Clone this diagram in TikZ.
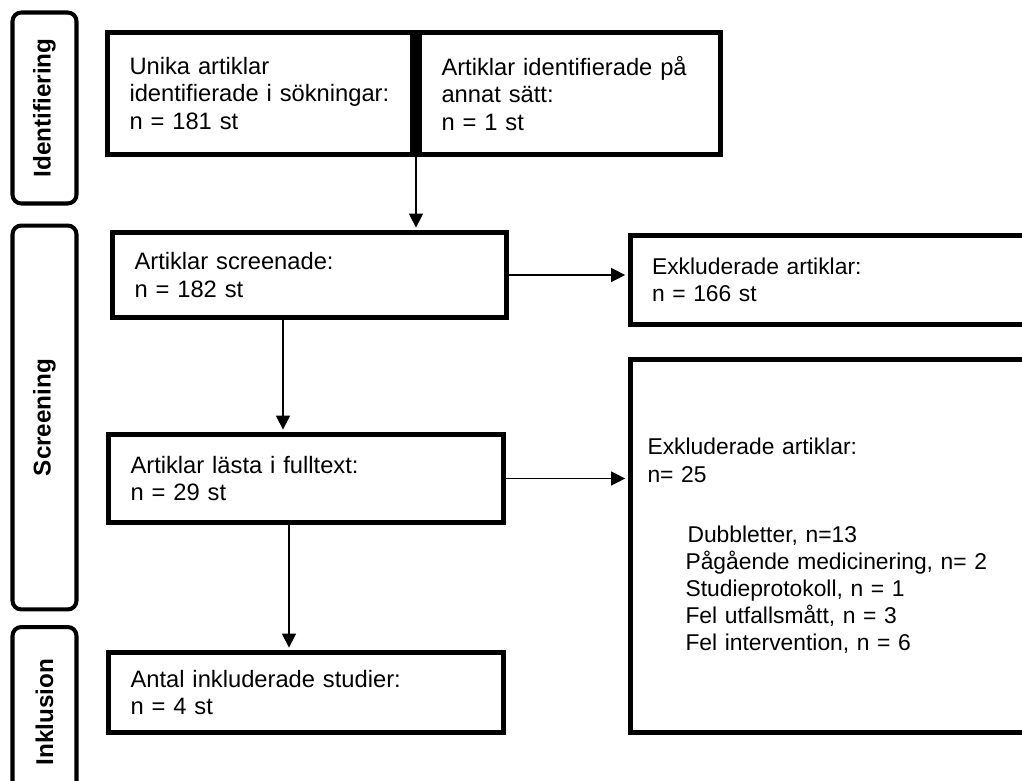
\documentclass[tikz,border=0pt]{standalone}
\usepackage{fontspec}
\setmainfont{Liberation Sans}
\usepackage{tikz}
\usetikzlibrary{calc,arrows.meta}

\tikzset{
  phase/.style={draw,line width=2.3pt,rounded corners=5pt,rotate=90,
    minimum height=1.28cm,font=\bfseries\fontsize{13.8}{16}\selectfont},
  box/.style={draw,line width=2.8pt,align=left,inner xsep=0.44cm,
    font=\fontsize{13.5}{15.4}\selectfont},
  exclbox/.style={box,font=\fontsize{13}{15.4}\selectfont},
  arr/.style={-{Triangle[length=8pt,width=8pt]},line width=0.85pt,shorten >=1.4pt}
}

\begin{document}
\begin{tikzpicture}[x=0.02cm,y=-0.02cm]
\useasboundingbox (0,0) rectangle (1022,781);
\clip (0,0) rectangle (1022,781);
% phases
\node[phase,minimum width=3.82cm] (ident) at (44.5,108) {Identifiering};
\node[phase,minimum width=7.68cm] (scr) at (44.5,417.5) {Screening};
\node[phase,minimum width=3.4cm] (inkl) at (44.5,712) {Inklusion};
% boxes
\node[box,text width=5.22cm,minimum height=2.44cm] (uni) at (260,93.5)
  {Unika artiklar\\identifierade i sökningar:\\n = 181 st};
\node[box,text width=5.14cm,minimum height=2.44cm] (annat) at (570,93.5)
  {Artiklar identifierade på\\annat sätt:\\n = 1 st};
\node[box,text width=7.0cm,minimum height=1.7cm] (screen) at (309.5,275)
  {Artiklar screenade:\\n = 182 st};
\node[exclbox,text width=7.32cm,minimum height=1.78cm] (excl1) at (835,280)
  {Exkluderade artiklar:\\n = 166 st};
\node[box,text width=7.02cm,minimum height=1.76cm] (fulltext) at (306,478.5)
  {Artiklar lästa i fulltext:\\n = 29 st};
\node[exclbox,inner xsep=0.35cm,text width=7.5cm,minimum height=7.46cm] (excl2) at (835,546)
  {Exkluderade artiklar:\\n= 25\\[19pt]
   \hspace*{0.8cm}Dubbletter, n=13\\
   \hspace*{0.76cm}Pågående medicinering, n= 2\\
   \hspace*{0.76cm}Studieprotokoll, n = 1\\
   \hspace*{0.76cm}Fel utfallsmått, n = 3\\
   \hspace*{0.76cm}Fel intervention, n = 6};
\node[box,text width=7.02cm,minimum height=1.6cm] (incl) at (306,692.5)
  {Antal inkluderade studier:\\n = 4 st};
% arrows
\coordinate (join) at ($(uni.north east)!0.5!(annat.north west)$);
\coordinate (c1) at (283,0);
\coordinate (c2) at (289,0);
\draw[arr] (join) -- (join |- screen.north);
\draw[arr] (screen.east) -- (screen.east -| excl1.west);
\draw[arr] (c1 |- screen.south) -- (c1 |- fulltext.north);
\draw[arr] (fulltext.east) -- (fulltext.east -| excl2.west);
\draw[arr] (c2 |- fulltext.south) -- (c2 |- incl.north);
\end{tikzpicture}
\end{document}
